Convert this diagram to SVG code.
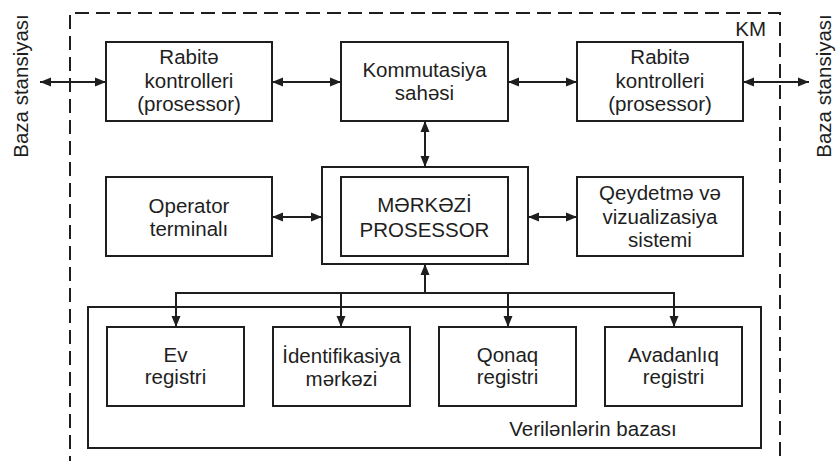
<svg xmlns="http://www.w3.org/2000/svg" width="837" height="461" viewBox="0 0 837 461">
<style>
.box{fill:none;stroke:#1e1e1e;stroke-width:2}
.t{font-family:"Liberation Sans",Arial,sans-serif;font-size:20.5px;fill:#1e1e1e;text-anchor:middle}
.c{fill:none;stroke:#1e1e1e;stroke-width:2}
.a{marker-end:url(#ah)}
.aa{marker-end:url(#ah);marker-start:url(#ah)}
</style>
<defs>
<marker id="ah" markerUnits="userSpaceOnUse" markerWidth="12" markerHeight="10" refX="11" refY="5" orient="auto-start-reverse" viewBox="0 0 12 10">
<path d="M0,0.5 L11,5 L0,9.5 Z" fill="#1e1e1e"/>
</marker>
</defs>
<rect width="837" height="461" fill="#ffffff"/>
<g id="boundary">
<path d="M70,470 V13 H780 V470" fill="none" stroke="#1e1e1e" stroke-width="2" stroke-dasharray="14 7"/>
<text class="t" x="766" y="36" style="text-anchor:end">KM</text>
</g>
<g id="baza-left"><text class="t" transform="translate(28,86) rotate(-90)">Baza stansiyası</text></g>
<g id="baza-right"><text class="t" transform="translate(831,86) rotate(-90)">Baza stansiyası</text></g>
<g id="rabite-left">
<rect class="box" x="106" y="42" width="166" height="79"/>
<text class="t" x="189" y="64">Rabitə</text>
<text class="t" x="189" y="88">kontrolleri</text>
<text class="t" x="189" y="111">(prosessor)</text>
</g>
<g id="kommutasiya">
<rect class="box" x="341" y="42" width="167" height="79"/>
<text class="t" x="424.5" y="77">Kommutasiya</text>
<text class="t" x="424.5" y="100">sahəsi</text>
</g>
<g id="rabite-right">
<rect class="box" x="577" y="42" width="166" height="79"/>
<text class="t" x="660" y="64">Rabitə</text>
<text class="t" x="660" y="88">kontrolleri</text>
<text class="t" x="660" y="111">(prosessor)</text>
</g>
<g id="operator">
<rect class="box" x="106" y="177" width="166" height="79"/>
<text class="t" x="189" y="213">Operator</text>
<text class="t" x="189" y="236">terminalı</text>
</g>
<g id="merkezi">
<rect class="box" x="322" y="167" width="206" height="97"/>
<rect class="box" x="341" y="177" width="167" height="79"/>
<text class="t" x="424.5" y="212">MƏRKƏZİ</text>
<text class="t" x="424.5" y="237">PROSESSOR</text>
</g>
<g id="qeydetme">
<rect class="box" x="577" y="177" width="166" height="79"/>
<text class="t" x="660" y="200">Qeydetmə və</text>
<text class="t" x="660" y="224">vizualizasiya</text>
<text class="t" x="660" y="247">sistemi</text>
</g>
<g id="verilenler">
<rect class="box" x="88" y="307" width="673" height="141"/>
<text class="t" x="593" y="436">Verilənlərin  bazası</text>
</g>
<g id="ev">
<rect class="box" x="107" y="327" width="137" height="79"/>
<text class="t" x="175.5" y="362">Ev</text>
<text class="t" x="175.5" y="384">registri</text>
</g>
<g id="identifikasiya">
<rect class="box" x="273" y="327" width="137" height="79"/>
<text class="t" x="341.5" y="363">İdentifikasiya</text>
<text class="t" x="341.5" y="386">mərkəzi</text>
</g>
<g id="qonaq">
<rect class="box" x="439" y="327" width="137" height="79"/>
<text class="t" x="507.5" y="362">Qonaq</text>
<text class="t" x="507.5" y="384">registri</text>
</g>
<g id="avadanliq">
<rect class="box" x="605" y="327" width="137" height="79"/>
<text class="t" x="673.5" y="362">Avadanlıq</text>
<text class="t" x="673.5" y="384">registri</text>
</g>
<g id="connectors">
<line class="c aa" x1="40" y1="82" x2="106" y2="82"/>
<line class="c aa" x1="272" y1="82" x2="341" y2="82"/>
<line class="c aa" x1="508" y1="82" x2="577" y2="82"/>
<line class="c aa" x1="743" y1="82" x2="809" y2="82"/>
<line class="c aa" x1="425" y1="121" x2="425" y2="167"/>
<line class="c aa" x1="272" y1="217" x2="322" y2="217"/>
<line class="c aa" x1="528" y1="217" x2="577" y2="217"/>
<line class="c a" x1="425" y1="293" x2="425" y2="264"/>
<path class="c" d="M176,327 V293 H674 V327"/>
<line class="c a" x1="176" y1="300" x2="176" y2="327"/>
<line class="c a" x1="341" y1="293" x2="341" y2="327"/>
<line class="c a" x1="508" y1="293" x2="508" y2="327"/>
<line class="c a" x1="674" y1="300" x2="674" y2="327"/>
</g>
</svg>
